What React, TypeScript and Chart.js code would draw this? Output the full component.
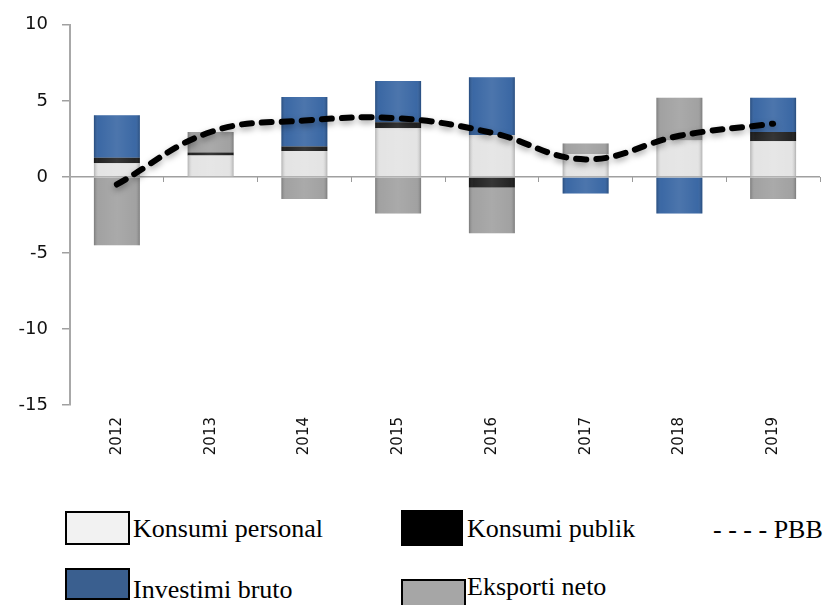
import React, { useEffect, useRef } from 'react';
import { Chart, registerables } from 'chart.js';

Chart.register(...registerables);

const years = ['2012', '2013', '2014', '2015', '2016', '2017', '2018', '2019'];
const konsumiPersonal = [0.9, 1.4, 1.7, 3.2, 2.75, 1.5, 2.4, 2.35];
const konsumiPublik = [0.35, 0.2, 0.3, 0.4, -0.7, 0, 0, 0.6];
const investimiBruto = [2.8, 0, 3.25, 2.7, 3.8, -1.1, -2.4, 2.25];
const eksportiNeto = [-4.5, 1.35, -1.45, -2.4, -3.0, 0.7, 2.8, -1.45];
const pbb = [-0.5, 2.95, 3.7, 3.85, 2.9, 1.15, 2.7, 3.5];
const yTicks = [10, 5, 0, -5, -10, -15];

const bevelPlugin = {
  id: 'bevel',
  afterDatasetDraw(chart: any, args: any) {
    const meta = args.meta;
    if (meta.type !== 'bar') return;
    const ctx = chart.ctx;
    ctx.save();
    meta.data.forEach((el: any) => {
      const p = el.getProps(['x', 'y', 'base', 'width'], true);
      const top = Math.min(p.y, p.base);
      const h = Math.abs(p.base - p.y);
      if (h < 0.5) return;
      const left = p.x - p.width / 2;
      const g = ctx.createLinearGradient(left, 0, left + p.width, 0);
      g.addColorStop(0, 'rgba(0,0,0,0.22)');
      g.addColorStop(0.1, 'rgba(255,255,255,0.06)');
      g.addColorStop(0.5, 'rgba(255,255,255,0.14)');
      g.addColorStop(0.9, 'rgba(255,255,255,0.06)');
      g.addColorStop(1, 'rgba(0,0,0,0.22)');
      ctx.fillStyle = g;
      ctx.fillRect(left, top, p.width, h);
    });
    ctx.restore();
  },
};

const shadowPlugin = {
  id: 'lineShadow',
  beforeDatasetDraw(chart: any, args: any) {
    if (args.meta.type !== 'line') return;
    const ctx = chart.ctx;
    ctx.save();
    ctx.shadowColor = 'rgba(0,0,0,0.35)';
    ctx.shadowBlur = 6;
    ctx.shadowOffsetY = 3;
  },
  afterDatasetDraw(chart: any, args: any) {
    if (args.meta.type !== 'line') return;
    chart.ctx.restore();
  },
};

const sans = '"DejaVu Sans", Verdana, sans-serif';

function ChartCanvas() {
  const ref = useRef<HTMLCanvasElement | null>(null);
  useEffect(() => {
    if (!ref.current) return;
    const chart = new Chart(ref.current, {
      type: 'bar',
      data: {
        labels: years,
        datasets: [
          { type: 'line', label: 'PBB', data: pbb, stack: 'pbb', order: 0, borderColor: '#000', borderWidth: 6, borderDash: [10, 10], borderCapStyle: 'round', pointRadius: 0, tension: 0.4, fill: false } as any,
          { label: 'Konsumi personal', data: konsumiPersonal, stack: 'a', order: 1, backgroundColor: '#e2e2e2' },
          { label: 'Konsumi publik', data: konsumiPublik, stack: 'a', order: 1, backgroundColor: '#161616' },
          { label: 'Investimi bruto', data: investimiBruto, stack: 'a', order: 1, backgroundColor: '#2f5f9f' },
          { label: 'Eksporti neto', data: eksportiNeto, stack: 'a', order: 1, backgroundColor: '#9c9c9c' },
        ],
      },
      options: {
        responsive: false,
        animation: false,
        devicePixelRatio: 1,
        layout: { padding: { top: 24, right: 4, left: 0, bottom: 0 } },
        datasets: { bar: { barPercentage: 0.49, categoryPercentage: 1 } },
        plugins: { legend: { display: false }, tooltip: { enabled: false } },
        scales: {
          x: {
            stacked: true,
            offset: true,
            grid: { display: false },
            border: { display: false },
            ticks: { minRotation: 90, maxRotation: 90, padding: 4, color: '#111', font: { family: sans, size: 15 } },
            afterFit: (s: any) => { s.height = 75; },
          },
          x2: {
            type: 'category',
            labels: years,
            position: { y: 0 },
            offset: true,
            grid: { offset: true, drawOnChartArea: false, drawTicks: true, tickLength: 5, color: '#9a9a9a', lineWidth: 1 },
            border: { display: false },
            ticks: { display: false },
          },
          y: {
            stacked: true,
            min: -15,
            max: 10,
            afterBuildTicks: (s: any) => { s.ticks = yTicks.map((v) => ({ value: v })); },
            grid: {
              color: (c: any) => (c.tick && c.tick.value === 0 ? '#a0a0a0' : 'rgba(0,0,0,0)'),
              lineWidth: 1.5,
              tickColor: '#a0a0a0',
              tickLength: 8,
              drawTicks: true,
            },
            border: { color: '#a8a8a8', width: 2 },
            ticks: { padding: 14, color: '#111', font: { family: sans, size: 18 } },
            afterFit: (s: any) => { s.width = 70; },
          },
        } as any,
      },
      plugins: [bevelPlugin, shadowPlugin],
    } as any);
    return () => chart.destroy();
  }, []);
  return <canvas ref={ref} width={824} height={480} style={{ position: 'absolute', left: 0, top: 0, width: 824, height: 480 }} />;
}

const serif = '"Liberation Serif", "Times New Roman", serif';
const textStyle: React.CSSProperties = { position: 'absolute', fontFamily: serif, fontSize: 26, lineHeight: '26px', color: '#000', whiteSpace: 'nowrap' };

export default function App() {
  return (
    <div style={{ position: 'absolute', left: 0, top: 0, width: 824, height: 605, background: '#fff', overflow: 'hidden' }}>
      <ChartCanvas />
      <div style={{ position: 'absolute', left: 65, top: 511, width: 65, height: 34, boxSizing: 'border-box', border: '2px solid #000', background: '#f2f2f2' }} />
      <div style={{ ...textStyle, left: 133, top: 516 }}>Konsumi personal</div>
      <div style={{ position: 'absolute', left: 401, top: 510, width: 62, height: 36, background: '#000' }} />
      <div style={{ ...textStyle, left: 467, top: 516 }}>Konsumi publik</div>
      <div style={{ ...textStyle, left: 713, top: 517 }}>- - - - PBB</div>
      <div style={{ position: 'absolute', left: 65, top: 568, width: 65, height: 32, boxSizing: 'border-box', border: '2px solid #000', background: '#3a5f8f' }} />
      <div style={{ ...textStyle, left: 133, top: 577 }}>Investimi bruto</div>
      <div style={{ position: 'absolute', left: 401, top: 579, width: 65, height: 32, boxSizing: 'border-box', border: '2px solid #000', background: '#a6a6a6' }} />
      <div style={{ ...textStyle, left: 467, top: 574 }}>Eksporti neto</div>
    </div>
  );
}
